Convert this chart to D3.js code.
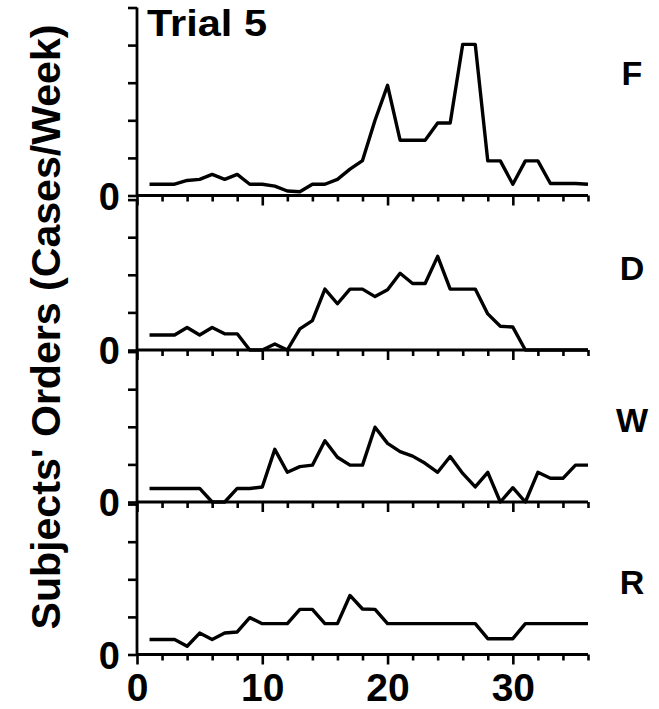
<!DOCTYPE html>
<html>
<head>
<meta charset="utf-8">
<script src="https://cdn.jsdelivr.net/npm/d3@7/dist/d3.min.js"></script>
<style>
  html, body { margin: 0; padding: 0; background: #fff; }
  svg { display: block; }
  text { font-family: "Liberation Sans", Arial, Helvetica, sans-serif; font-weight: bold; fill: #000; }
</style>
</head>
<body>
<svg id="chart" width="659" height="709"></svg>
<script>
// ---- data ----
const weeks = [1,2,3,4,5,6,7,8,9,10,11,12,13,14,15,16,17,18,19,20,21,22,23,24,25,26,27,28,29,30,31,32,33,34,35,36];
const panelNames = ["F", "D", "W", "R"];
const factory = [3,3,3,4,4.3,5.6,4.3,5.6,3,3,2.5,1.2,1,3,3,4.3,7,9.3,20,29.3,14.7,14.7,14.7,19.3,19.3,40.2,40.2,9.2,9.2,3,9.2,9.2,3.2,3.2,3.2,3];
const distributor = [4,4,4,6,4,6,4.3,4.3,0,0,1.6,0,5.6,7.8,16.2,12.3,16.2,16.2,14.2,16,20.4,17.7,17.7,24.9,16.2,16.2,16.2,9.6,6.3,6.1,0,0,0,0,0,0];
const wholesaler = [3.6,3.6,3.6,3.6,3.6,0,0,3.6,3.6,4,14,7.9,9.4,9.8,16.3,11.9,9.8,9.8,19.9,15.6,13.4,12.2,10.3,7.9,12.1,7.6,4,7.9,0,3.8,0,7.9,6.3,6.3,9.8,9.8];
const retailer = [4,4,4,2.2,5.7,4,5.7,6,9.8,8.2,8.2,8.2,12,12,8.2,8.2,15.7,12.1,12,8.2,8.2,8.2,8.2,8.2,8.2,8.2,8.2,4.2,4.2,4.2,8.2,8.2,8.2,8.2,8.2,8.2];
const seriesValues = [factory, distributor, wholesaler, retailer];
const yMaxes = [50, 40, 40, 40];
const yTickValues = [[0,10,20,30,40,50],[0,10,20,30,40],[0,10,20,30,40],[0,10,20,30,40]];
const xTickValues = [0,2,4,6,8,10,12,14,16,18,20,22,24,26,28,30,32,34,36];
const xTickLabels = [0,10,20,30];
const title = "Trial 5";
const yLabel = "Subjects' Orders (Cases/Week)";

// ---- layout ----
const svg = d3.select("#chart");
const xLeft = 137, xRight = 588;
const baselines = [195.5, 350, 502, 654.5];
const pxPerUnit = 3.76;
const labelY = [85, 280, 432, 594];

const x = d3.scaleLinear().domain([0, 36]).range([xLeft, xRight]);

panelNames.forEach((name, i) => {
  const base = baselines[i];
  const y = d3.scaleLinear().domain([0, yMaxes[i]]).range([base, base - yMaxes[i] * pxPerUnit]);
  const g = svg.append("g");

  // y axis
  const yAxis = d3.axisLeft(y).tickValues(yTickValues[i]).tickSize(9)
    .tickFormat(d => d === 0 ? "0" : "");
  const ya = g.append("g").attr("transform", `translate(${xLeft},0)`).call(yAxis);
  ya.select(".domain").attr("stroke-width", 2.8).attr("d", `M0,${y(yMaxes[i])}V${base}`);
  ya.selectAll(".tick line").attr("stroke-width", 2.6);
  ya.selectAll(".tick text").attr("font-size", 38).attr("x", -17).attr("dy", "0.36em")
    .style("font-family", "Liberation Sans, Arial, sans-serif").style("font-weight", "bold");

  // x axis with minor/major ticks
  const xAxis = d3.axisBottom(x).tickValues(xTickValues).tickSizeOuter(0)
    .tickSize(6).tickFormat("");
  const xa = g.append("g").attr("transform", `translate(0,${base})`).call(xAxis);
  xa.select(".domain").attr("stroke-width", 2.8).attr("d", `M${xLeft},0H${xRight}`);
  xa.selectAll(".tick line").attr("stroke-width", 2.6)
    .attr("y2", d => xTickLabels.includes(d) ? 10 : 6);

  if (i === panelNames.length - 1) {
    xa.selectAll(".tick").filter(d => xTickLabels.includes(d))
      .append("text").attr("y", 46).attr("text-anchor", "middle")
      .attr("font-size", 39).text(d => d);
  }

  // series
  const line = d3.line().x((d, j) => x(weeks[j])).y(d => y(d));
  g.append("path").datum(seriesValues[i]).attr("d", line)
    .attr("fill", "none").attr("stroke", "#000").attr("stroke-width", 3.4)
    .attr("stroke-linejoin", "round");

  // panel label
  g.append("text").attr("x", 632).attr("y", labelY[i]).attr("text-anchor", "middle")
    .attr("font-size", 34).text(name);
});

// title
svg.append("text").attr("x", 147).attr("y", 36).attr("font-size", 37)
  .attr("textLength", 120).attr("lengthAdjust", "spacingAndGlyphs").text(title);

// y label
svg.append("text").attr("transform", "translate(60,327) rotate(-90)")
  .attr("text-anchor", "middle").attr("font-size", 40)
  .attr("textLength", 605).attr("lengthAdjust", "spacingAndGlyphs").text(yLabel);
</script>
</body>
</html>
